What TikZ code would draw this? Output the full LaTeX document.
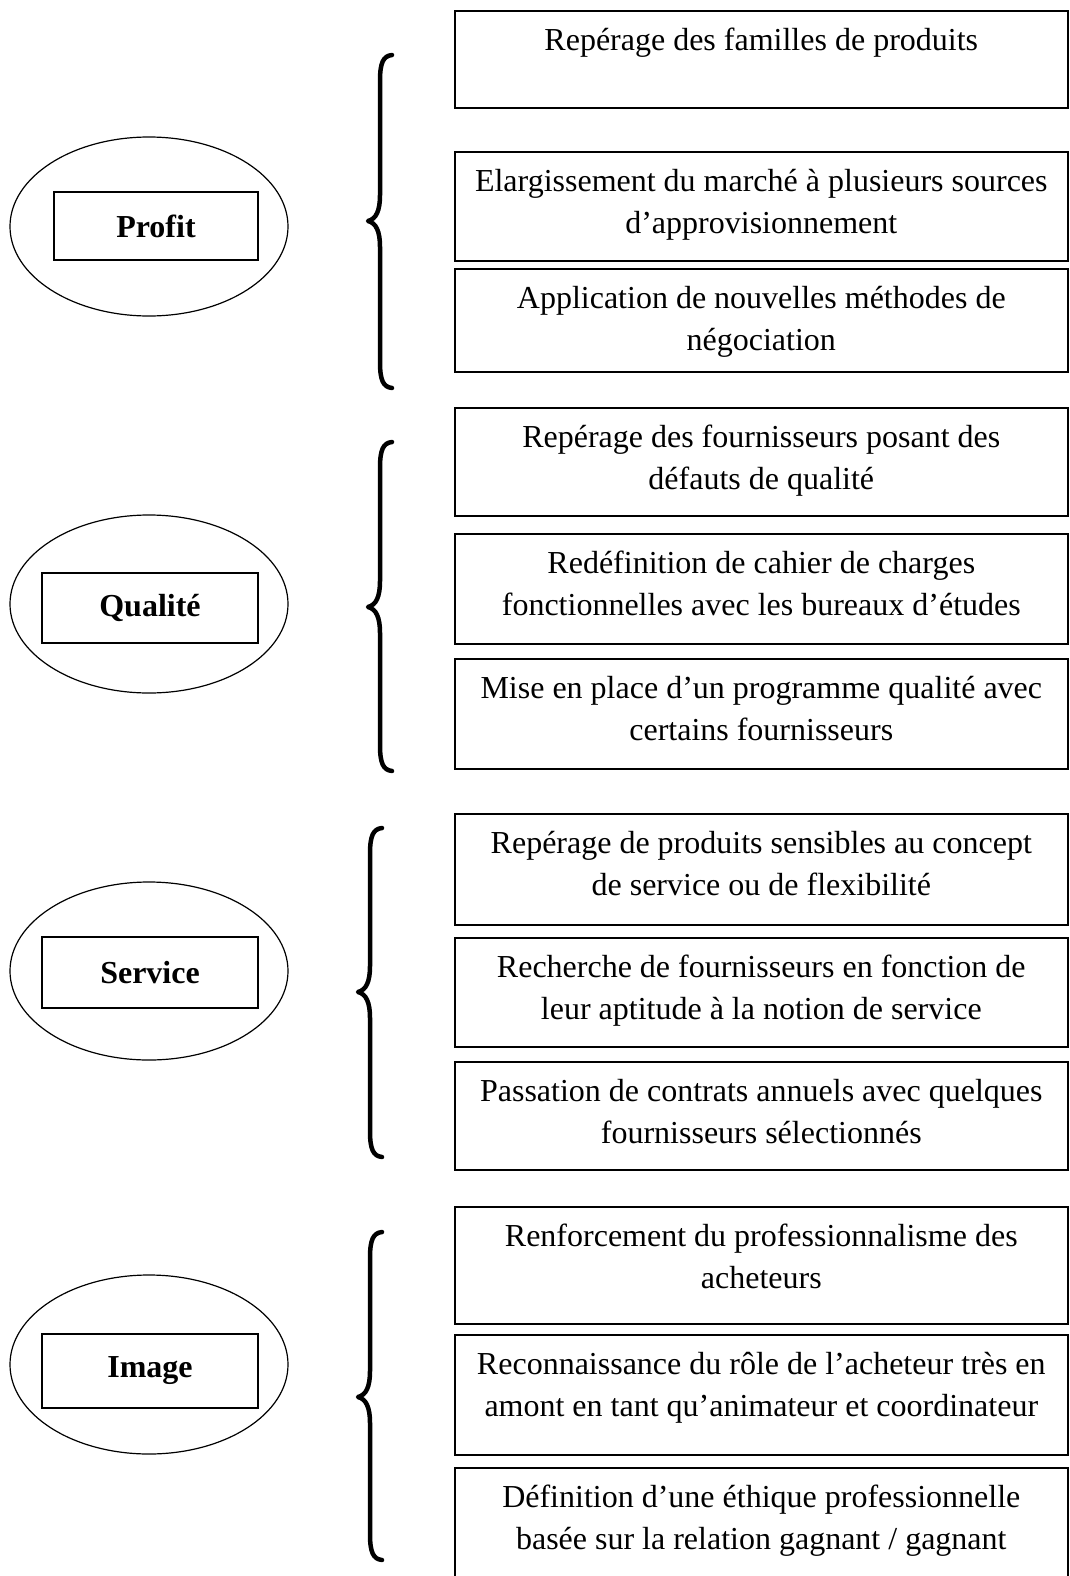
\documentclass[tikz,border=0pt]{standalone}
\usepackage{fontspec}
\setmainfont{Liberation Serif}
\usetikzlibrary{shapes.geometric}
\newcommand\itxt[2]{\parbox[c][#1][t]{613pt}{\centering\rule{0pt}{40pt}#2}}
\newcommand\curly[4]{%
  \draw[bracestyle] (#1+24,#2) .. controls (#1+15,#2+1) and (#1+12,#2+8) .. (#1+12,#2+26)
    -- (#1+12,#3-26) .. controls (#1+12,#3-10) and (#1+8,#3-2) .. (#1,#3)
    .. controls (#1+8,#3+2) and (#1+12,#3+10) .. (#1+12,#3+26)
    -- (#1+12,#4-26) .. controls (#1+12,#4-8) and (#1+15,#4-1) .. (#1+24,#4);}
\tikzset{
  itembox/.style={draw, line width=1.6pt, inner sep=0pt, anchor=north west,
    font=\fontsize{32}{42}\selectfont},
  ovalshape/.style={draw, ellipse, line width=1.2pt, minimum width=278pt,
    minimum height=179pt, inner sep=0pt},
  labelbox/.style={draw, line width=1.6pt, inner sep=0pt,
    font=\bfseries\fontsize{32}{38}\selectfont},
  bracestyle/.style={line width=4.5pt, line cap=round, line join=round},
}
\begin{document}
\begin{tikzpicture}[x=1pt,y=-1pt]
\useasboundingbox (0,0) rectangle (1070,1576);
% ---------------- Profit
\node[ovalshape] (pe) at (149,226.5) {};
\node[labelbox, minimum width=204pt, minimum height=68pt] (pl) at (156,226) {Profit};
\curly{368}{55}{221}{388}
\node[itembox] (p1) at (454,10) {\itxt{97pt}{Repérage des familles de produits}};
\node[itembox] (p2) at (454,151) {\itxt{109pt}{Elargissement du marché à plusieurs sources\\d’approvisionnement}};
\node[itembox] (p3) at (454,268) {\itxt{103pt}{Application de nouvelles méthodes de\\négociation}};
% ---------------- Qualité
\node[ovalshape, minimum height=178pt] (qe) at (149,604) {};
\node[labelbox, minimum width=216pt, minimum height=70pt] (ql) at (150,608) {Qualité};
\curly{368}{442}{607}{771}
\node[itembox] (q1) at (454,407) {\itxt{108pt}{Repérage des fournisseurs posant des\\défauts de qualité}};
\node[itembox] (q2) at (454,533) {\itxt{110pt}{Redéfinition de cahier de charges\\fonctionnelles avec les bureaux d’études}};
\node[itembox] (q3) at (454,658) {\itxt{110pt}{Mise en place d’un programme qualité avec\\certains fournisseurs}};
% ---------------- Service
\node[ovalshape, minimum height=178pt] (se) at (149,971) {};
\node[labelbox, minimum width=216pt, minimum height=71pt] (sl) at (150,972.5) {Service};
\curly{358}{828}{992}{1157}
\node[itembox] (s1) at (454,813) {\itxt{111pt}{Repérage de produits sensibles au concept\\de service ou de flexibilité}};
\node[itembox] (s2) at (454,937) {\itxt{109pt}{Recherche de fournisseurs en fonction de\\leur aptitude à la notion de service}};
\node[itembox] (s3) at (454,1061) {\itxt{108pt}{Passation de contrats annuels avec quelques\\fournisseurs sélectionnés}};
% ---------------- Image
\node[ovalshape] (ie) at (149,1364.5) {};
\node[labelbox, minimum width=216pt, minimum height=74pt] (il) at (150,1371) {Image};
\curly{358}{1232}{1397}{1560}
\node[itembox] (i1) at (454,1206) {\itxt{117pt}{Renforcement du professionnalisme des\\acheteurs}};
\node[itembox] (i2) at (454,1334) {\itxt{120pt}{Reconnaissance du rôle de l’acheteur très en\\amont en tant qu’animateur et coordinateur}};
\node[itembox] (i3) at (454,1467) {\itxt{120pt}{Définition d’une éthique professionnelle\\basée sur la relation gagnant / gagnant}};
\end{tikzpicture}
\end{document}
